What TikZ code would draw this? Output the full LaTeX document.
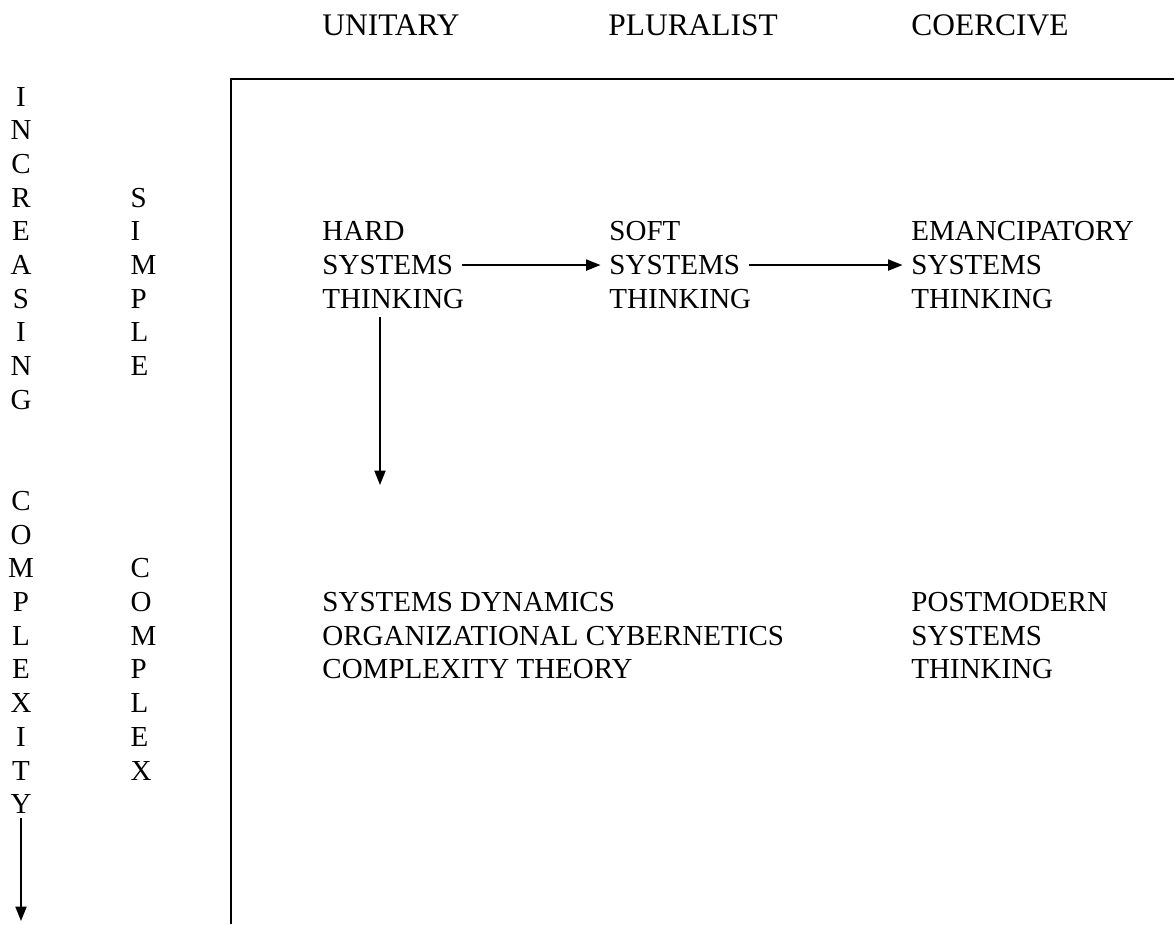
\documentclass[tikz,border=0pt]{standalone}
\usepackage{fontspec}
\setmainfont{Liberation Serif}
\usetikzlibrary{arrows.meta, positioning, calc}
\definecolor{inkblack}{HTML}{000000}

\begin{document}
\begin{tikzpicture}[x=0.4138pt, y=-0.4138pt,
    every node/.style={font=\fontsize{12}{14}\selectfont, text=inkblack},
    txt/.style={anchor=base west, inner sep=3.5pt},
    head/.style={anchor=base west, inner sep=3.5pt, font=\fontsize{13}{15}\selectfont},
    letter/.style={anchor=base, inner sep=1.5pt},
    letterl/.style={anchor=base west, inner sep=1.5pt},
    link/.style={-{Triangle[length=6pt,width=4.6pt]}, line width=0.75pt, inkblack}]
    \useasboundingbox (0,0) rectangle (1174,924);

    % Column headings
    \node[head] (unitary) at (313.5,35) {UNITARY};
    \node[head] (pluralist) at (599.5,35) {PLURALIST};
    \node[head] (coercive) at (902.5,35) {COERCIVE};

    % Frame
    \draw[line width=0.8pt, inkblack] (231,924) -- (231,79) -- (1174,79);

    % Side labels, one letter per line
    \foreach \ch [count=\i from 0] in {I,N,C,R,E,A,S,I,N,G}
        \node[letter] (inc\i) at (21,{106+33.7*\i}) {\ch};
    \foreach \ch [count=\i from 12] in {C,O,M,P,L,E,X,I,T,Y}
        \node[letter] (cpx\i) at (21,{106+33.7*\i}) {\ch};
    \foreach \ch [count=\i from 3] in {S,I,M,P,L,E}
        \node[letterl] (smp\i) at (126.5,{106+33.7*\i}) {\ch};
    \foreach \ch [count=\i from 14] in {C,O,M,P,L,E,X}
        \node[letterl] (cmp\i) at (126.5,{106+33.7*\i}) {\ch};

    % Upper row
    \node[txt] (hardtop) at (313.5,240.8) {HARD};
    \node[txt] (hardsys) at (313.5,274.5) {SYSTEMS};
    \node[txt] (hardthink) at (313.5,308.2) {THINKING};
    \node[txt] (softtop) at (600.5,240.8) {SOFT};
    \node[txt] (softsys) at (600.5,274.5) {SYSTEMS};
    \node[txt] (softthink) at (600.5,308.2) {THINKING};
    \node[txt] (emantop) at (902.5,240.8) {EMANCIPATORY};
    \node[txt] (emansys) at (902.5,274.5) {SYSTEMS};
    \node[txt] (emanthink) at (902.5,308.2) {THINKING};

    % Lower row
    \node[txt] (sysdyn) at (313.5,611.5) {SYSTEMS DYNAMICS};
    \node[txt] (orgcyb) at (313.5,645.2) {ORGANIZATIONAL CYBERNETICS};
    \node[txt] (cplxthy) at (313.5,678.9) {COMPLEXITY THEORY};
    \node[txt] (postmod) at (902.5,611.5) {POSTMODERN};
    \node[txt] (postsys) at (902.5,645.2) {SYSTEMS};
    \node[txt] (postthink) at (902.5,678.9) {THINKING};

    % Arrows
    \draw[link] (hardsys) -- (softsys);
    \draw[link] (softsys) -- (emansys);
    \coordinate (dropend) at (380,485);
    \draw[link] (hardthink.south -| dropend) -- (dropend);
    \coordinate (cpxend) at (21,921);
    \draw[link] (cpx21) -- (cpxend);
\end{tikzpicture}
\end{document}
